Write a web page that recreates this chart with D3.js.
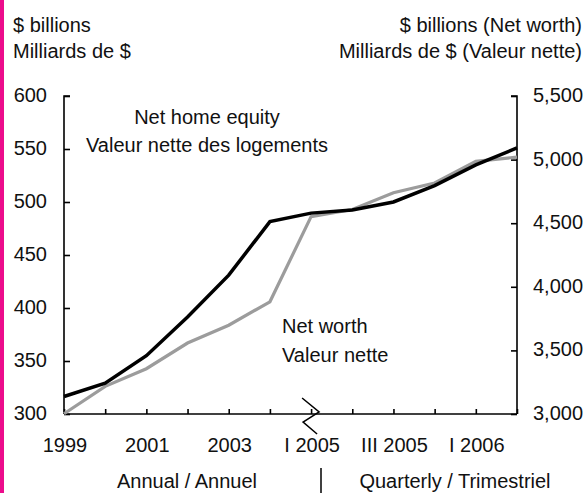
<!DOCTYPE html>
<html>
<head>
<meta charset="utf-8">
<script src="https://cdnjs.cloudflare.com/ajax/libs/d3/7.8.5/d3.min.js"></script>
<style>
body { margin: 0; background: #fff; }
text { font-family: "Liberation Sans", Arial, sans-serif; font-size: 20px; fill: #111; }
</style>
</head>
<body>
<div id="chart"></div>
<script>
var periods = ["1999", "2000", "2001", "2002", "2003", "2004",
    "I 2005", "II 2005", "III 2005", "IV 2005", "I 2006", "II 2006"];
var shownLabels = ["1999", "2001", "2003", "I 2005", "III 2005", "I 2006"];
var homeEquity = [316.5, 329, 355, 391.5, 431, 481.5, 489.5, 492.5, 500, 515.5, 535, 551];
var netWorth = [3002, 3217, 3356, 3558, 3698, 3882, 4552, 4608, 4739, 4816, 4986, 5020];
var leftTicks = [300, 350, 400, 450, 500, 550, 600];
var rightTicks = [3000, 3500, 4000, 4500, 5000, 5500];

var width = 587;
var height = 493;
var plotLeft = 64, plotRight = 517, plotTop = 96, plotBottom = 414;

var svg = d3.select("#chart").append("svg")
    .attr("width", width)
    .attr("height", height);

// magenta side bar
svg.append("rect")
    .attr("x", 0).attr("y", 0)
    .attr("width", 4).attr("height", height)
    .attr("fill", "#ec0c8c");

var x = d3.scalePoint().domain(periods).range([plotLeft, plotRight]);
var yLeft = d3.scaleLinear().domain([300, 600]).range([plotBottom, plotTop]);
var yRight = d3.scaleLinear().domain([3000, 5500]).range([plotBottom, plotTop]);

// axes
var gLeft = svg.append("g").attr("transform", "translate(" + plotLeft + ",0)")
    .call(d3.axisRight(yLeft).tickValues(leftTicks).tickSize(6).tickFormat(""));
var gRight = svg.append("g").attr("transform", "translate(" + plotRight + ",0)")
    .call(d3.axisLeft(yRight).tickValues(rightTicks).tickSize(6).tickFormat(""));
var gX = svg.append("g").attr("transform", "translate(0," + plotBottom + ")")
    .call(d3.axisTop(x).tickSize(5).tickFormat(""));
[gLeft, gRight, gX].forEach(function(g) {
    g.select(".domain").attr("stroke", "#000").attr("stroke-width", 1.6);
    g.selectAll(".tick line").attr("stroke", "#000").attr("stroke-width", 1.6);
});
gLeft.select(".domain").attr("d", "M6," + plotTop + "H0V" + plotBottom);
gRight.select(".domain").attr("d", "M-6," + plotTop + "H0V" + plotBottom);
gX.select(".domain").attr("d", "M" + plotLeft + ",0H" + plotRight);

// tick labels
svg.selectAll(".lt").data(leftTicks).enter().append("text")
    .attr("x", 47)
    .attr("y", function(d) { return yLeft(d) + 6; })
    .attr("text-anchor", "end")
    .text(function(d) { return d; });
svg.selectAll(".rt").data(rightTicks).enter().append("text")
    .attr("x", 533)
    .attr("y", function(d) { return yRight(d) + 6; })
    .text(function(d) { return d3.format(",")(d); });
svg.selectAll(".xt").data(shownLabels).enter().append("text")
    .attr("x", function(d) { return x(d) + 1; })
    .attr("y", plotBottom + 38)
    .attr("text-anchor", "middle")
    .text(function(d) { return d; });

// axis break at I 2005
var bx = x("I 2005");
svg.append("path")
    .attr("d", "M" + (bx - 9) + "," + (plotBottom - 16) + "L" + (bx + 8) + "," + (plotBottom - 2)
        + "L" + (bx - 8) + "," + (plotBottom + 8) + "L" + (bx + 6) + "," + (plotBottom + 20))
    .attr("fill", "none")
    .attr("stroke", "#000")
    .attr("stroke-width", 1.5);

// lines
var lineLeft = d3.line()
    .x(function(d, i) { return x(periods[i]); })
    .y(function(d) { return yLeft(d); });
var lineRight = d3.line()
    .x(function(d, i) { return x(periods[i]); })
    .y(function(d) { return yRight(d); });

svg.append("path").datum(netWorth)
    .attr("d", lineRight)
    .attr("fill", "none")
    .attr("stroke", "#9c9c9c")
    .attr("stroke-width", 3.2);
svg.append("path").datum(homeEquity)
    .attr("d", lineLeft)
    .attr("fill", "none")
    .attr("stroke", "#000")
    .attr("stroke-width", 3.5);

// titles
svg.append("text").attr("x", 13).attr("y", 31.5).text("$ billions");
svg.append("text").attr("x", 13).attr("y", 58).text("Milliards de $");
svg.append("text").attr("x", 582).attr("y", 31.5).attr("text-anchor", "end").text("$ billions (Net worth)");
svg.append("text").attr("x", 582).attr("y", 58).attr("text-anchor", "end").text("Milliards de $ (Valeur nette)");

// annotations
svg.append("text").attr("x", 207).attr("y", 124).attr("text-anchor", "middle").text("Net home equity");
svg.append("text").attr("x", 207).attr("y", 152).attr("text-anchor", "middle").text("Valeur nette des logements");
svg.append("text").attr("x", 282).attr("y", 333).text("Net worth");
svg.append("text").attr("x", 282).attr("y", 361.5).text("Valeur nette");

// bottom captions
svg.append("text").attr("x", 187).attr("y", 488).attr("text-anchor", "middle").text("Annual / Annuel");
svg.append("text").attr("x", 455).attr("y", 488).attr("text-anchor", "middle").text("Quarterly / Trimestriel");
svg.append("line")
    .attr("x1", 321).attr("x2", 321)
    .attr("y1", 468).attr("y2", height)
    .attr("stroke", "#000")
    .attr("stroke-width", 1.5);
</script>
</body>
</html>
